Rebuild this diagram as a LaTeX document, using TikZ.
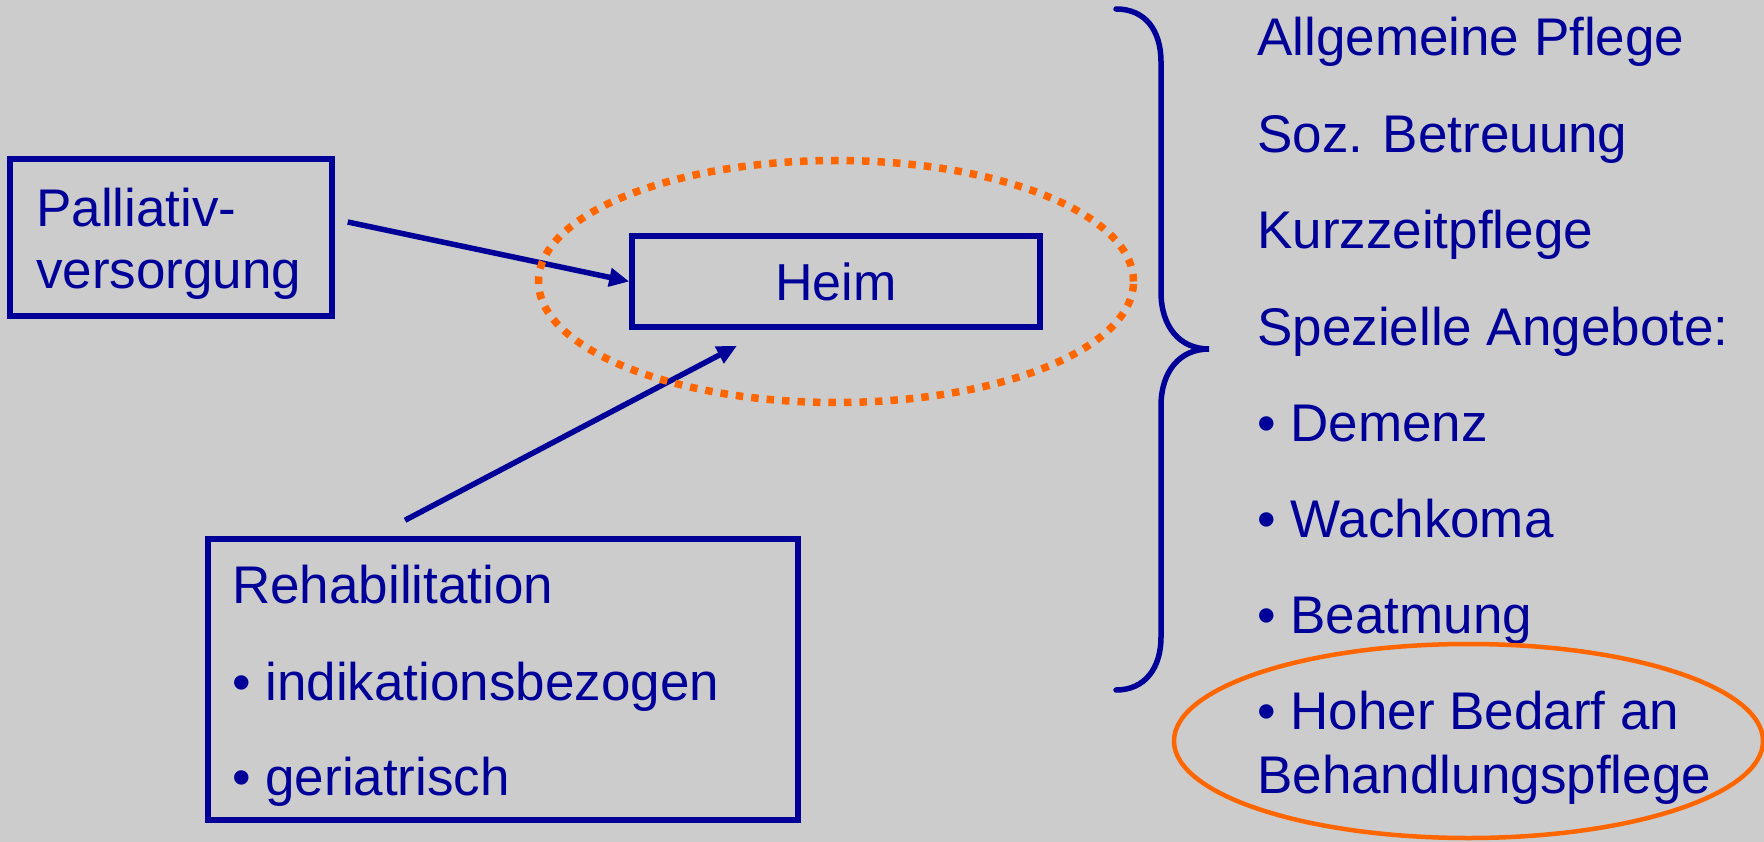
\documentclass[tikz,border=0pt]{standalone}
\usepackage{fontspec}
\setmainfont{Liberation Sans}
\usetikzlibrary{arrows.meta}
\definecolor{bgc}{HTML}{CCCCCC}
\definecolor{dblue}{HTML}{000099}
\definecolor{orng}{HTML}{FF6600}
\begin{document}
\begin{tikzpicture}[x=1pt,y=-1pt,
  lbl/.style={inner sep=0pt, anchor=base west, text=dblue, font=\fontsize{53pt}{64pt}\selectfont},
  boxnode/.style={draw=dblue, line width=5.5pt, rectangle, inner sep=0pt},
  arr/.style={draw=dblue, line width=5.5pt, -{Triangle[length=20pt,width=18pt]}},
  dotring/.style={draw=orng, line width=7.5pt, dash pattern=on 7.5pt off 8pt},
  ring/.style={draw=orng, line width=4.5pt},
  bracestyle/.style={draw=dblue, line width=5.5pt, line cap=round},
]
\fill[bgc] (0,0) rectangle (1764,842);
\useasboundingbox (0,0) rectangle (1764,842);

% boxes
\node[boxnode, minimum width=322pt, minimum height=157pt] (pall) at (171,237.5) {};
\node[boxnode, minimum width=408pt, minimum height=91pt, text=dblue, font=\fontsize{52pt}{62pt}\selectfont] (heim) at (836,281.5) {Heim};
\node[boxnode, minimum width=590pt, minimum height=281pt] (rehab) at (503,679.5) {};

% left texts
\node[lbl] (p1) at (36,227) {Palliativ-};
\node[lbl] (p2) at (36,289) {versorgung};
\node[lbl] (r1) at (232,603) {Rehabilitation};
\node[lbl] (r2) at (232,700) {• indikationsbezogen};
\node[lbl] (r3) at (232,795) {• geriatrisch};

% arrows
\draw[arr] ([shift={(13,-15.5)}]pall.east) -- (heim.west);
\draw[arr] ([shift={(-98,-16)}]rehab.north) -- ([shift={(-99,16)}]heim.south);

% dotted ellipse
\draw[dotring] (heim.center) ellipse [x radius=297.5pt, y radius=121pt];

% brace
\draw[bracestyle] (1116,9) .. controls (1145,9) and (1161,30) .. (1161,62)
  -- (1161,292) .. controls (1161,327) and (1180,349) .. (1209,349)
  .. controls (1180,349) and (1161,371) .. (1161,406)
  -- (1161,637) .. controls (1161,668) and (1145,690) .. (1116,690);

% right texts
\node[lbl] (t1) at (1257,56) {Allgemeine Pflege};
\node[lbl] (t2) at (1257,153) {Soz. Betreuung};
\node[lbl] (t3) at (1257,249) {Kurzzeitpflege};
\node[lbl] (t4) at (1257,345) {Spezielle Angebote:};
\node[lbl] (t5) at (1257,441) {• Demenz};
\node[lbl] (t6) at (1257,537) {• Wachkoma};
\node[lbl] (t7) at (1257,633) {• Beatmung};
\node[lbl] (t8) at (1257,729) {• Hoher Bedarf an};
\node[lbl] (t9) at (1257,793) {Behandlungspflege};

% solid ellipse
\draw[ring] (1468.5,741) ellipse [x radius=294.5pt, y radius=97pt];
\end{tikzpicture}
\end{document}
